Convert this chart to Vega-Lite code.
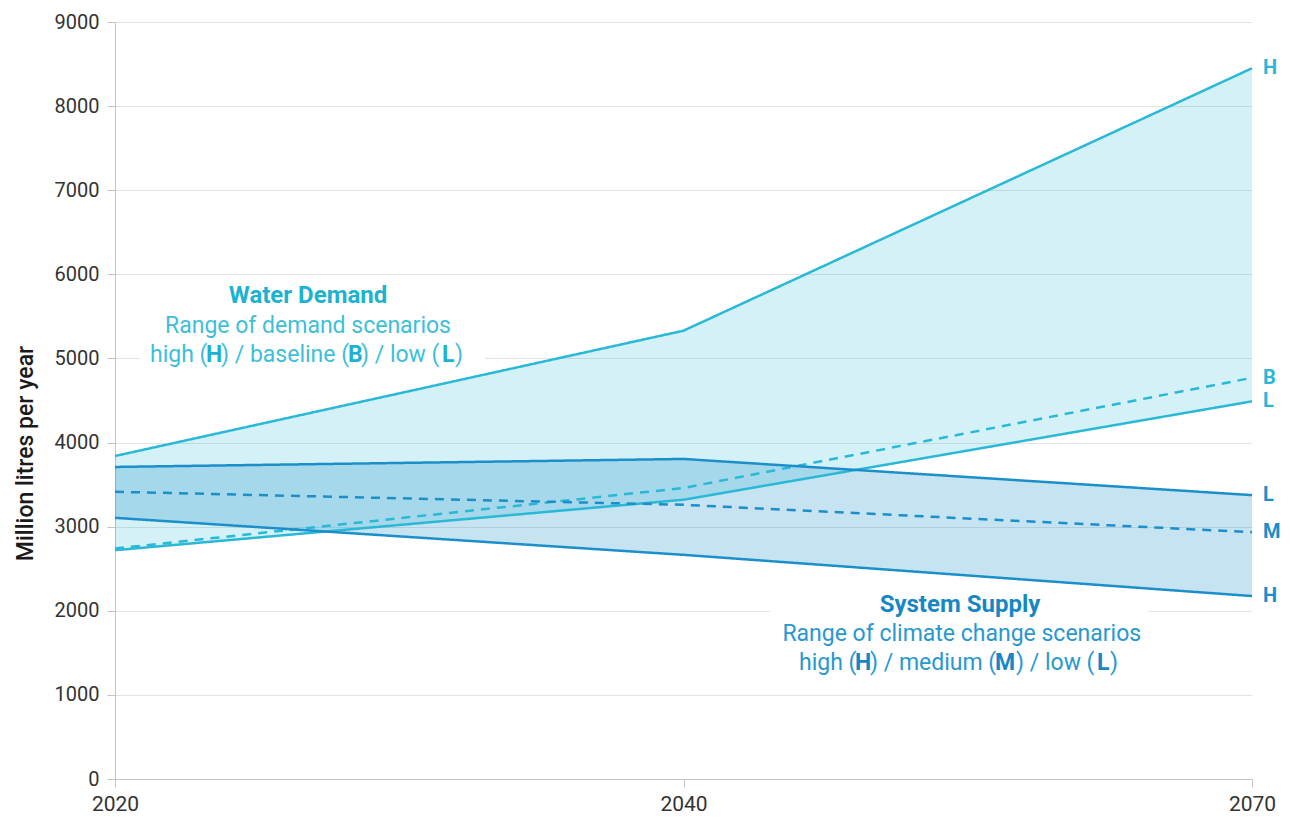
{
  "$schema": "https://vega.github.io/schema/vega-lite/v6.json",
  "width": 1137,
  "height": 757,
  "autosize": {"type": "none"},
  "padding": {"left": 115, "top": 22, "right": 38, "bottom": 40},
  "background": "white",
  "config": {"view": {"stroke": null}, "font": "Roboto", "text": {"font": "Roboto"}},
  "datasets": {
    "scenarios": [
      {"year": "2020", "series": "Demand", "scenario": "H", "value": 3840},
      {"year": "2040", "series": "Demand", "scenario": "H", "value": 5330},
      {"year": "2070", "series": "Demand", "scenario": "H", "value": 8450},
      {"year": "2020", "series": "Demand", "scenario": "B", "value": 2740},
      {"year": "2040", "series": "Demand", "scenario": "B", "value": 3460},
      {"year": "2070", "series": "Demand", "scenario": "B", "value": 4770},
      {"year": "2020", "series": "Demand", "scenario": "L", "value": 2720},
      {"year": "2040", "series": "Demand", "scenario": "L", "value": 3320},
      {"year": "2070", "series": "Demand", "scenario": "L", "value": 4490},
      {"year": "2020", "series": "Supply", "scenario": "L", "value": 3710},
      {"year": "2040", "series": "Supply", "scenario": "L", "value": 3805},
      {"year": "2070", "series": "Supply", "scenario": "L", "value": 3375},
      {"year": "2020", "series": "Supply", "scenario": "M", "value": 3415},
      {"year": "2040", "series": "Supply", "scenario": "M", "value": 3260},
      {"year": "2070", "series": "Supply", "scenario": "M", "value": 2935},
      {"year": "2020", "series": "Supply", "scenario": "H", "value": 3105},
      {"year": "2040", "series": "Supply", "scenario": "H", "value": 2665},
      {"year": "2070", "series": "Supply", "scenario": "H", "value": 2175}
    ]
  },
  "layer": [
    {
      "data": {"name": "scenarios"},
      "encoding": {
        "x": {
          "field": "year", "type": "ordinal",
          "scale": {"type": "point", "padding": 0},
          "axis": {"labelAngle": 0, "title": null, "grid": false, "domainColor": "#c4c4c4", "tickColor": "#c4c4c4", "tickSize": 8, "labelPadding": 6, "labelFontSize": 21, "labelColor": "#333333", "labelFont": "Roboto"}
        },
        "y": {
          "type": "quantitative",
          "scale": {"domain": [0, 9000], "nice": false},
          "axis": {
            "values": [0, 1000, 2000, 3000, 4000, 5000, 6000, 7000, 8000, 9000],
            "format": "d", "grid": true, "gridColor": "#e3e3e3", "domainColor": "#c4c4c4", "tickColor": "#c4c4c4", "tickSize": 8, "labelPadding": 8, "labelFontSize": 20, "labelColor": "#333333", "labelFont": "Roboto",
            "title": "Million litres per year", "titleFont": "Roboto", "titleFontSize": 23, "titleFontWeight": 500, "titleColor": "#1a1a1a",
            "titleAngle": -90, "titleX": -90, "titleY": 431, "titleAlign": "center", "titleBaseline": "middle"
          }
        }
      },
      "layer": [
        {
          "transform": [
            {"pivot": "scenario", "value": "value", "groupby": ["year", "series"]},
            {"filter": "datum.series == 'Demand'"}
          ],
          "mark": {"type": "area", "color": "#29b8d6", "opacity": 0.2},
          "encoding": {"y": {"field": "L", "type": "quantitative"}, "y2": {"field": "H"}}
        },
        {
          "transform": [
            {"pivot": "scenario", "value": "value", "groupby": ["year", "series"]},
            {"filter": "datum.series == 'Supply'"}
          ],
          "mark": {"type": "area", "color": "#1a8fc9", "opacity": 0.25},
          "encoding": {"y": {"field": "H", "type": "quantitative"}, "y2": {"field": "L"}}
        },
        {
          "mark": {"type": "line", "strokeWidth": 2.5},
          "encoding": {
            "y": {"field": "value", "type": "quantitative"},
            "color": {"field": "series", "type": "nominal", "scale": {"domain": ["Demand", "Supply"], "range": ["#29b8d6", "#1a8fc9"]}, "legend": null},
            "strokeDash": {"field": "scenario", "type": "nominal", "scale": {"domain": ["H", "L", "B", "M"], "range": [[1, 0], [1, 0], [9, 7], [9, 7]]}, "legend": null}
          }
        },
        {
          "transform": [{"filter": "datum.year == '2070'"}],
          "mark": {"type": "text", "align": "left", "baseline": "middle", "dx": 11, "fontSize": 20, "fontWeight": "bold", "font": "Roboto"},
          "encoding": {
            "y": {"field": "value", "type": "quantitative"},
            "text": {"field": "scenario"},
            "color": {"field": "series", "type": "nominal", "scale": {"domain": ["Demand", "Supply"], "range": ["#29b8d6", "#1a8fc9"]}, "legend": null}
          }
        }
      ]
    },
    {
      "data": {"values": [{}]},
      "layer": [
        {
          "mark": {"type": "rect", "color": "white"},
          "encoding": {
            "x": {"datum": 0.044, "type": "quantitative", "scale": {"domain": [0, 2]}, "axis": null},
            "x2": {"datum": 0.651},
            "y": {"datum": 4863, "type": "quantitative", "axis": null},
            "y2": {"datum": 5933}
          }
        },
        {
          "mark": {"type": "rect", "color": "white"},
          "encoding": {
            "x": {"datum": 1.152, "type": "quantitative", "scale": {"domain": [0, 2]}, "axis": null},
            "x2": {"datum": 1.817},
            "y": {"datum": 1058, "type": "quantitative", "axis": null},
            "y2": {"datum": 2211}
          }
        },
        {
          "mark": {"type": "text", "text": "Water Demand", "align": "center", "baseline": "middle", "fontSize": 24, "fontWeight": "bold", "color": "#1db2d2"},
          "encoding": {"x": {"datum": 0.3395, "type": "quantitative", "scale": {"domain": [0, 2]}, "axis": null}, "y": {"datum": 5742, "type": "quantitative", "axis": null}}
        },
        {
          "mark": {"type": "text", "text": "Range of demand scenarios", "align": "center", "baseline": "middle", "fontSize": 23, "color": "#3dbfda"},
          "encoding": {"x": {"datum": 0.3395, "type": "quantitative", "scale": {"domain": [0, 2]}, "axis": null}, "y": {"datum": 5386, "type": "quantitative", "axis": null}}
        },
        {
          "mark": {"type": "text", "text": "high (", "align": "left", "baseline": "middle", "fontSize": 23, "color": "#3dbfda"},
          "encoding": {"x": {"datum": 0.0616, "type": "quantitative", "scale": {"domain": [0, 2]}, "axis": null}, "y": {"datum": 5041, "type": "quantitative", "axis": null}}
        },
        {
          "mark": {"type": "text", "text": "H", "align": "left", "baseline": "middle", "fontSize": 23, "fontWeight": "bold", "color": "#1db2d2"},
          "encoding": {"x": {"datum": 0.1601, "type": "quantitative", "scale": {"domain": [0, 2]}, "axis": null}, "y": {"datum": 5041, "type": "quantitative", "axis": null}}
        },
        {
          "mark": {"type": "text", "text": ") / baseline (", "align": "left", "baseline": "middle", "fontSize": 23, "color": "#3dbfda"},
          "encoding": {"x": {"datum": 0.1865, "type": "quantitative", "scale": {"domain": [0, 2]}, "axis": null}, "y": {"datum": 5041, "type": "quantitative", "axis": null}}
        },
        {
          "mark": {"type": "text", "text": "B", "align": "left", "baseline": "middle", "fontSize": 23, "fontWeight": "bold", "color": "#1db2d2"},
          "encoding": {"x": {"datum": 0.4099, "type": "quantitative", "scale": {"domain": [0, 2]}, "axis": null}, "y": {"datum": 5041, "type": "quantitative", "axis": null}}
        },
        {
          "mark": {"type": "text", "text": ") / low (", "align": "left", "baseline": "middle", "fontSize": 23, "color": "#3dbfda"},
          "encoding": {"x": {"datum": 0.4327, "type": "quantitative", "scale": {"domain": [0, 2]}, "axis": null}, "y": {"datum": 5041, "type": "quantitative", "axis": null}}
        },
        {
          "mark": {"type": "text", "text": "L", "align": "left", "baseline": "middle", "fontSize": 23, "fontWeight": "bold", "color": "#1db2d2"},
          "encoding": {"x": {"datum": 0.5752, "type": "quantitative", "scale": {"domain": [0, 2]}, "axis": null}, "y": {"datum": 5041, "type": "quantitative", "axis": null}}
        },
        {
          "mark": {"type": "text", "text": ")", "align": "left", "baseline": "middle", "fontSize": 23, "color": "#3dbfda"},
          "encoding": {"x": {"datum": 0.5981, "type": "quantitative", "scale": {"domain": [0, 2]}, "axis": null}, "y": {"datum": 5041, "type": "quantitative", "axis": null}}
        },
        {
          "mark": {"type": "text", "text": "System Supply", "align": "center", "baseline": "middle", "fontSize": 24, "fontWeight": "bold", "color": "#1787c3"},
          "encoding": {"x": {"datum": 1.4864, "type": "quantitative", "scale": {"domain": [0, 2]}, "axis": null}, "y": {"datum": 2069, "type": "quantitative", "axis": null}}
        },
        {
          "mark": {"type": "text", "text": "Range of climate change scenarios", "align": "center", "baseline": "middle", "fontSize": 23, "color": "#2898cf"},
          "encoding": {"x": {"datum": 1.4895, "type": "quantitative", "scale": {"domain": [0, 2]}, "axis": null}, "y": {"datum": 1724, "type": "quantitative", "axis": null}}
        },
        {
          "mark": {"type": "text", "text": "high (", "align": "left", "baseline": "middle", "fontSize": 23, "color": "#2898cf"},
          "encoding": {"x": {"datum": 1.2032, "type": "quantitative", "scale": {"domain": [0, 2]}, "axis": null}, "y": {"datum": 1379, "type": "quantitative", "axis": null}}
        },
        {
          "mark": {"type": "text", "text": "H", "align": "left", "baseline": "middle", "fontSize": 23, "fontWeight": "bold", "color": "#1787c3"},
          "encoding": {"x": {"datum": 1.3017, "type": "quantitative", "scale": {"domain": [0, 2]}, "axis": null}, "y": {"datum": 1379, "type": "quantitative", "axis": null}}
        },
        {
          "mark": {"type": "text", "text": ") / medium (", "align": "left", "baseline": "middle", "fontSize": 23, "color": "#2898cf"},
          "encoding": {"x": {"datum": 1.328, "type": "quantitative", "scale": {"domain": [0, 2]}, "axis": null}, "y": {"datum": 1379, "type": "quantitative", "axis": null}}
        },
        {
          "mark": {"type": "text", "text": "M", "align": "left", "baseline": "middle", "fontSize": 23, "fontWeight": "bold", "color": "#1787c3"},
          "encoding": {"x": {"datum": 1.5479, "type": "quantitative", "scale": {"domain": [0, 2]}, "axis": null}, "y": {"datum": 1379, "type": "quantitative", "axis": null}}
        },
        {
          "mark": {"type": "text", "text": ") / low (", "align": "left", "baseline": "middle", "fontSize": 23, "color": "#2898cf"},
          "encoding": {"x": {"datum": 1.5849, "type": "quantitative", "scale": {"domain": [0, 2]}, "axis": null}, "y": {"datum": 1379, "type": "quantitative", "axis": null}}
        },
        {
          "mark": {"type": "text", "text": "L", "align": "left", "baseline": "middle", "fontSize": 23, "fontWeight": "bold", "color": "#1787c3"},
          "encoding": {"x": {"datum": 1.7273, "type": "quantitative", "scale": {"domain": [0, 2]}, "axis": null}, "y": {"datum": 1379, "type": "quantitative", "axis": null}}
        },
        {
          "mark": {"type": "text", "text": ")", "align": "left", "baseline": "middle", "fontSize": 23, "color": "#2898cf"},
          "encoding": {"x": {"datum": 1.7502, "type": "quantitative", "scale": {"domain": [0, 2]}, "axis": null}, "y": {"datum": 1379, "type": "quantitative", "axis": null}}
        }
      ]
    }
  ],
  "resolve": {"scale": {"x": "independent"}, "axis": {"y": "independent"}}
}
